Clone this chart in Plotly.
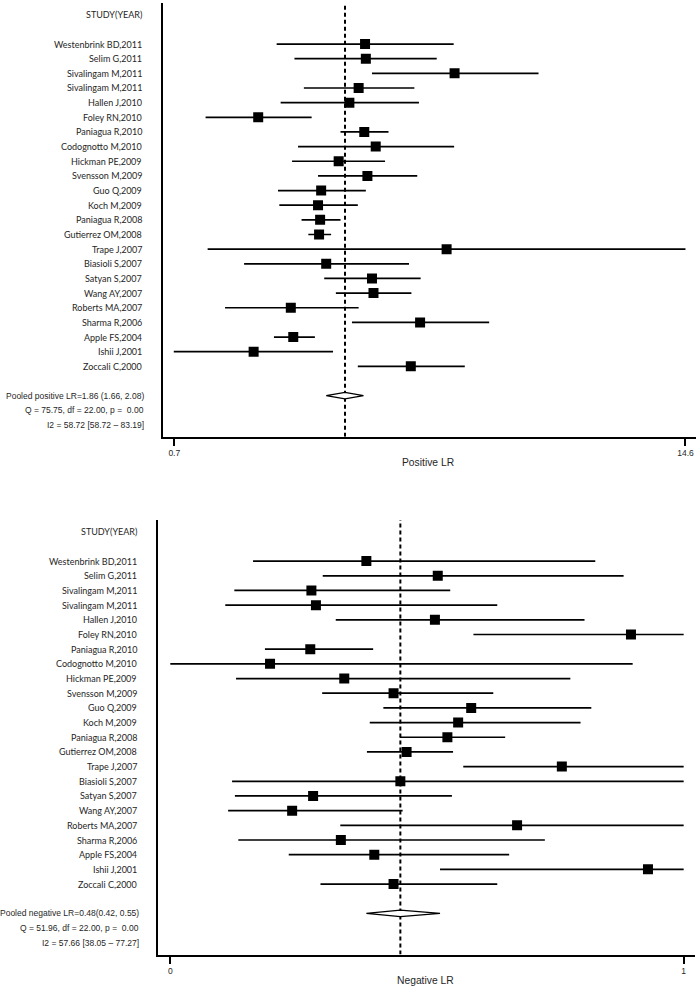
import plotly.graph_objects as go

# ---- data ----
studies = ['Westenbrink BD,2011', 'Selim G,2011', 'Sivalingam M,2011', 'Sivalingam M,2011',
           'Hallen J,2010', 'Foley RN,2010', 'Paniagua R,2010', 'Codognotto M,2010',
           'Hickman PE,2009', 'Svensson M,2009', 'Guo Q,2009', 'Koch M,2009',
           'Paniagua R,2008', 'Gutierrez OM,2008', 'Trape J,2007', 'Biasioli S,2007',
           'Satyan S,2007', 'Wang AY,2007', 'Roberts MA,2007', 'Sharma R,2006',
           'Apple FS,2004', 'Ishii J,2001', 'Zoccali C,2000']

pos_lr = [2.10, 2.11, 3.61, 2.02, 1.91, 1.10, 2.09, 2.24, 1.79, 2.13, 1.61, 1.58,
          1.60, 1.59, 3.44, 1.66, 2.19, 2.21, 1.34, 2.93, 1.36, 1.07, 2.77]
pos_lo = [1.23, 1.37, 2.19, 1.45, 1.26, 0.80, 1.81, 1.40, 1.35, 1.58, 1.24, 1.25,
          1.43, 1.49, 0.81, 1.01, 1.64, 1.76, 0.90, 1.94, 1.21, 0.66, 2.01]
pos_hi = [3.59, 3.24, 6.00, 2.83, 2.91, 1.52, 2.42, 3.60, 2.37, 2.88, 2.11, 2.01,
          1.81, 1.71, 14.6, 2.74, 2.94, 2.78, 2.02, 4.45, 1.55, 1.73, 3.84]
pos_pooled = [1.86, 1.66, 2.08]
pos_text = ['Pooled positive LR=1.86 (1.66, 2.08)',
            'Q = 75.75, df = 22.00, p =  0.00',
            'I2 = 58.72 [58.72 \u2013 83.19]']
pos_ticks = [0.662, 14.6]
pos_ticktext = ['0.7', '14.6']

neg_lr = [0.42, 0.546, 0.323, 0.331, 0.541, 0.887, 0.321, 0.25, 0.381, 0.468, 0.605, 0.582,
          0.563, 0.491, 0.765, 0.48, 0.326, 0.289, 0.686, 0.375, 0.434, 0.917, 0.468]
neg_lo = [0.22, 0.343, 0.187, 0.171, 0.366, 0.609, 0.241, 0.074, 0.19, 0.342, 0.45, 0.426,
          0.479, 0.421, 0.591, 0.183, 0.188, 0.176, 0.374, 0.194, 0.283, 0.55, 0.339]
neg_hi = [0.824, 0.874, 0.568, 0.651, 0.805, 0.98, 0.432, 0.89, 0.78, 0.644, 0.817, 0.798,
          0.665, 0.573, 0.98, 0.98, 0.571, 0.484, 0.98, 0.735, 0.672, 0.98, 0.651]
neg_pooled = [0.48, 0.42, 0.55]
neg_text = ['Pooled negative LR=0.48(0.42, 0.55)',
            'Q = 51.96, df = 22.00, p =  0.00',
            'I2 = 57.66 [38.05 \u2013 77.27]']
neg_ticks = [0.074, 0.98]
neg_ticktext = ['0', '1']

W, H = 700, 990
LABEL_FONT = dict(family='Lato', size=9, color='#262626')
STAT_FONT = dict(family='Liberation Sans', size=8.5, color='#262626')
YRANGE = [26.8, -2.8]


def add_panel(fig, n, est, lo, hi, pooled, text_lines, ticks, ticktext, xrange, xlog,
              xdom, ydom, label_x, stat_x, title, title_xy):
    xa = 'x' if n == 1 else 'x%d' % n
    ya = 'y' if n == 1 else 'y%d' % n
    rows = list(range(len(est)))

    # confidence intervals
    cx, cy = [], []
    for r, a, b in zip(rows, lo, hi):
        cx += [a, b, None]
        cy += [r, r, None]
    fig.add_trace(go.Scatter(x=cx, y=cy, mode='lines', line=dict(color='black', width=1.7),
                             xaxis=xa, yaxis=ya, hoverinfo='skip'))

    # pooled estimate dashed line
    fig.add_trace(go.Scatter(x=[pooled[0], pooled[0]], y=YRANGE, mode='lines',
                             line=dict(color='black', width=2, dash='4px,3px'),
                             xaxis=xa, yaxis=ya, hoverinfo='skip'))

    # point estimates
    fig.add_trace(go.Scatter(x=est, y=rows, mode='markers',
                             marker=dict(symbol='square', size=10, color='black'),
                             xaxis=xa, yaxis=ya))

    # pooled diamond
    pr = len(est) + 1
    h = 0.22
    fig.add_trace(go.Scatter(x=[pooled[1], pooled[0], pooled[2], pooled[0], pooled[1]],
                             y=[pr, pr - h, pr, pr + h, pr], mode='lines', fill='toself',
                             fillcolor='white', line=dict(color='black', width=1.3),
                             xaxis=xa, yaxis=ya, hoverinfo='skip'))

    fig.update_layout({
        ('xaxis' if n == 1 else 'xaxis%d' % n): dict(
            domain=xdom, anchor=ya, type='log' if xlog else 'linear', range=xrange,
            tickvals=ticks, ticktext=ticktext, ticks='outside', ticklen=7, tickwidth=2,
            tickcolor='black', showline=True, linecolor='black', linewidth=2,
            showgrid=False, zeroline=False,
            tickfont=dict(family='Liberation Sans', size=8.5, color='#262626')),
        ('yaxis' if n == 1 else 'yaxis%d' % n): dict(
            domain=ydom, anchor=xa, range=YRANGE, showticklabels=False, ticks='',
            showline=True, linecolor='black', linewidth=2, showgrid=False, zeroline=False),
    })

    yref = ya
    fig.add_annotation(x=label_x, y=-2, xref='paper', yref=yref, text='STUDY(YEAR)',
                       xanchor='right', showarrow=False, font=LABEL_FONT)
    for r, s in zip(rows, studies):
        fig.add_annotation(x=label_x, y=r, xref='paper', yref=yref, text=s,
                           xanchor='right', showarrow=False, font=LABEL_FONT)
    for i, t in enumerate(text_lines):
        fig.add_annotation(x=stat_x, y=pr + i, xref='paper', yref=yref, text=t,
                           xanchor='right', showarrow=False, font=STAT_FONT)
    fig.add_annotation(x=title_xy[0] / W, y=1 - title_xy[1] / H, xref='paper', yref='paper',
                       text=title, showarrow=False, xanchor='center', yanchor='middle',
                       font=dict(family='Liberation Sans', size=10.3, color='#262626'))


fig = go.Figure()

add_panel(fig, 1, pos_lr, pos_lo, pos_hi, pos_pooled, pos_text, pos_ticks, pos_ticktext,
          [-0.2096, 1.1920], True,
          [162.7 / W, 696 / W], [1 - 436.7 / H, 1 - 3 / H],
          144 / W, 146 / W, 'Positive LR', (428, 462.7))

add_panel(fig, 2, neg_lr, neg_lo, neg_hi, neg_pooled, neg_text, neg_ticks, neg_ticktext,
          [0.0528, 1.0], False,
          [158.3 / W, 695 / W], [1 - 954.5 / H, 1 - 520 / H],
          139 / W, 141 / W, 'Negative LR', (425.5, 980))

fig.update_layout(width=W, height=H, margin=dict(l=0, r=0, t=0, b=0),
                  plot_bgcolor='white', paper_bgcolor='white', showlegend=False)

# page body has a default 8px margin; drop it so the figure sits at the window origin
fig.write_html("out.html", config={'displayModeBar': False},
               post_script="document.body.style.margin='0';")
